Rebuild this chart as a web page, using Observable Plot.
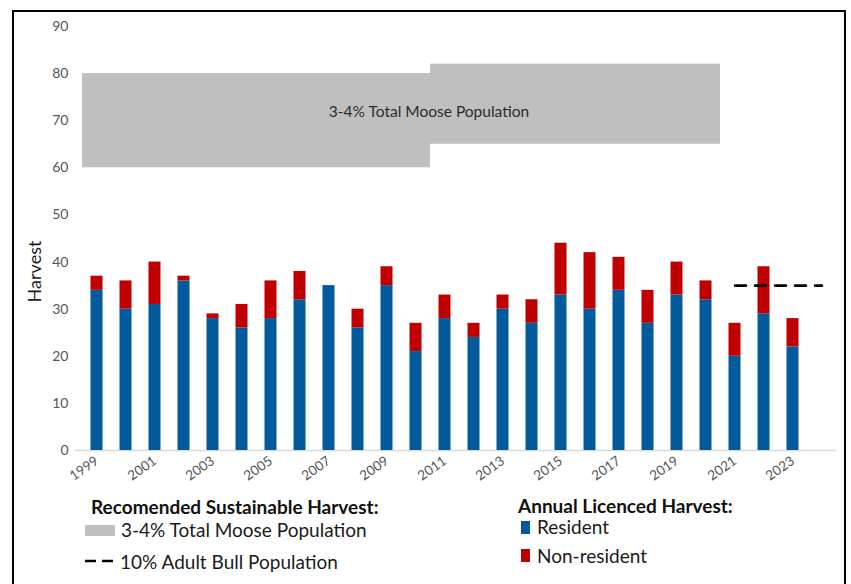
<!DOCTYPE html>
<html>
<head>
<meta charset="utf-8">
<script src="https://cdn.jsdelivr.net/npm/d3@7"></script>
<script src="https://cdn.jsdelivr.net/npm/@observablehq/plot@0.6"></script>
<style>
  html, body { margin: 0; padding: 0; background: #fff; overflow: hidden; }
  body { width: 851px; height: 584px; position: relative; font-family: Lato, "Open Sans", sans-serif; }
  #frame { position: absolute; left: 12px; top: 10px; width: 834px; height: 640px; box-sizing: border-box; border: 2px solid #000; pointer-events: none; }
  #chart { position: absolute; left: 0; top: 0; }
  .lg { position: absolute; line-height: 22px; white-space: nowrap; color: #1a1a1a; }
  .hd { font-weight: bold; font-size: 19px; color: #111; }
  .it { font-size: 19px; }
  .sw { position: absolute; }
</style>
</head>
<body>
<div id="chart"></div>
<div id="legend"></div>
<div id="frame"></div>
<script>
// ---- data ----
const years = [1999, 2000, 2001, 2002, 2003, 2004, 2005, 2006, 2007, 2008, 2009, 2010, 2011,
               2012, 2013, 2014, 2015, 2016, 2017, 2018, 2019, 2020, 2021, 2022, 2023];
const resident    = [34, 30, 31, 36, 28, 26, 28, 32, 35, 26, 35, 21, 28,
                     24, 30, 27, 33, 30, 34, 27, 33, 32, 20, 29, 22];
const nonResident = [3, 6, 9, 1, 1, 5, 8, 6, 0, 4, 4, 6, 5,
                     3, 3, 5, 11, 12, 7, 7, 7, 4, 7, 10, 6];
const seriesNames = ["Resident", "Non-resident"];
const seriesColors = ["#005a9c", "#c00000"];

// Recommended sustainable harvest: 3-4% of total moose population (two periods)
const popBandFrom = [1999, 2011];
const popBandTo   = [2010, 2020];
const popBandLow  = [60, 65];
const popBandHigh = [80, 82];
const popBandLabel = "3-4% Total Moose Population";

// 10% adult bull population
const bullYears = [2021, 2024];
const bullLevel = [35, 35];

const xTickYears = [1999, 2001, 2003, 2005, 2007, 2009, 2011, 2013, 2015, 2017, 2019, 2021, 2023];
const yTicks = [0, 10, 20, 30, 40, 50, 60, 70, 80, 90];
const yLabel = "Harvest";

// ---- tables built from the arrays ----
const xDomain = d3.range(years[0], bullYears[1] + 1);
const harvestRows = years.flatMap((yr, i) => [
  {year: yr, type: seriesNames[0], value: resident[i]},
  {year: yr, type: seriesNames[1], value: nonResident[i]}
]);
const bandRows = popBandFrom.flatMap((f, k) =>
  d3.range(f, popBandTo[k] + 1).map(yr => ({year: yr, lo: popBandLow[k], hi: popBandHigh[k]})));
const bullRows = bullYears.map((yr, i) => ({year: yr, level: bullLevel[i]}));
const bandLabelRow = [{year: popBandTo[0], v: d3.mean([...popBandLow, ...popBandHigh]), text: popBandLabel}];

const chart = Plot.plot({
  width: 851,
  height: 490,
  marginLeft: 82,
  marginRight: 15,
  marginTop: 26,
  marginBottom: 40,
  style: {fontFamily: "Lato, 'Open Sans', sans-serif", background: "transparent"},
  x: {type: "band", domain: xDomain, padding: 0},
  y: {domain: [0, 90]},
  color: {domain: seriesNames, range: seriesColors},
  marks: [
    Plot.barY(bandRows, {x: "year", y1: "lo", y2: "hi", fill: "#bfbfbf"}),
    Plot.text(bandLabelRow, {x: "year", y: "v", text: "text", dx: 13, fontSize: 15.5, fill: "#2b2b2b"}),
    Plot.ruleY([0], {stroke: "#d9d9d9", strokeWidth: 1.5, insetLeft: -7}),
    Plot.barY(harvestRows, {x: "year", y: "value", fill: "type", insetLeft: 8.5, insetRight: 8.5}),
    Plot.line(bullRows, {x: "year", y: "level", stroke: "#000", strokeWidth: 2.6, strokeDasharray: "11,9"}),
    Plot.axisX({ticks: xTickYears, tickFormat: d => `${d}`, tickSize: 0, tickPadding: 9, tickRotate: -35, fontSize: 13.5, color: "#555", label: null}),
    Plot.axisY({ticks: yTicks, tickSize: 0, tickPadding: 14, fontSize: 14, color: "#555", label: null}),
    Plot.text([yLabel], {frameAnchor: "left", textAnchor: "middle", lineAnchor: "middle", dx: -47, dy: 33, rotate: -90, fontSize: 18, fill: "#1a1a1a", text: d => d})
  ]
});
document.getElementById("chart").appendChild(chart);

// ---- legend (HTML, below the plot area) ----
const lg = document.getElementById("legend");
function add(html) { lg.insertAdjacentHTML("beforeend", html); }
add(`<div class="lg hd" style="left:91px;top:496px">Recomended Sustainable Harvest:</div>`);
add(`<div class="sw" style="left:85px;top:525px;width:30px;height:11px;background:#bfbfbf"></div>`);
add(`<div class="lg it" style="left:121px;top:519px">${popBandLabel}</div>`);
add(`<svg class="sw" style="left:84px;top:556px" width="32" height="10"><line x1="1" y1="5" x2="29" y2="5" stroke="#000" stroke-width="2.6" stroke-dasharray="11,6"/></svg>`);
add(`<div class="lg it" style="left:120px;top:551px">10% Adult Bull Population</div>`);
add(`<div class="lg hd" style="left:518px;top:495px">Annual Licenced Harvest:</div>`);
add(`<div class="sw" style="left:521px;top:521px;width:9px;height:13px;background:${seriesColors[0]}"></div>`);
add(`<div class="lg it" style="left:537px;top:516px">${seriesNames[0]}</div>`);
add(`<div class="sw" style="left:521px;top:549px;width:9px;height:13px;background:${seriesColors[1]}"></div>`);
add(`<div class="lg it" style="left:537px;top:545px">${seriesNames[1]}</div>`);
</script>
</body>
</html>
